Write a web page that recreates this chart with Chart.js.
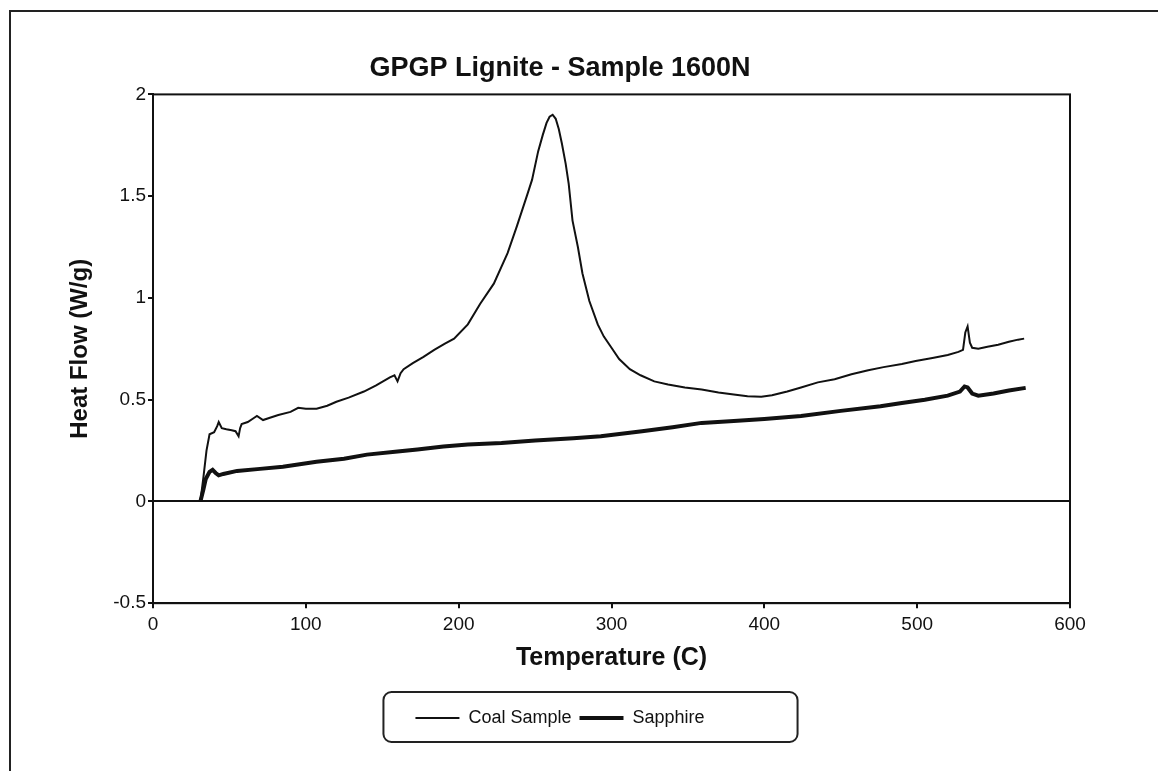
<!DOCTYPE html>
<html>
<head>
    <title>GPGP Lignite - Sample 1600N</title>
    <script src="https://cdn.jsdelivr.net/npm/chart.js"></script>
    <style>
        body {
            margin: 0;
            background: #fff;
        }
        #frame {
            position: absolute;
            left: 9px;
            top: 10px;
            width: 1160px;
            height: 800px;
            border-top: 2px solid #222;
            border-left: 2px solid #222;
        }
        #wrap {
            position: absolute;
            left: 0;
            top: 0;
            width: 1120px;
            height: 771px;
        }
    </style>
</head>
<body>
    <div id="frame"></div>
    <div id="wrap"><canvas id="dsc-chart"></canvas></div>

    <script>
        // tick labels
        const xTicks = [0, 100, 200, 300, 400, 500, 600];
        const yTicks = [-0.5, 0, 0.5, 1, 1.5, 2];

        // Coal Sample: temperature (C) and heat flow (W/g)
        const coalTemp = [31, 33, 35, 37, 40, 42, 43, 45, 48, 51.5, 54, 56, 57, 58, 62, 66, 68, 72, 76, 82,
            90, 95, 100, 107, 114, 120, 128, 138, 146, 155, 158, 160, 162, 164, 170, 177, 184, 191, 197,
            206, 214, 223, 232, 238, 245, 248, 252, 255, 257.5, 259.5, 261.5, 263.5, 265.5, 267.5, 270, 272, 274.5,
            278, 281, 285.5, 291, 295, 300, 305, 312, 319, 328, 337, 348, 359, 370, 380, 389, 398, 405,
            415, 424, 435, 446, 457, 468, 478, 490, 499, 510, 520, 527, 530, 531.5, 533, 534.5, 536, 540,
            546, 553, 560, 566, 570];
        const coalFlow = [0, 0.12, 0.25, 0.33, 0.34, 0.37, 0.39, 0.36, 0.355, 0.35, 0.345, 0.32, 0.36, 0.38, 0.39, 0.41, 0.42, 0.40, 0.41, 0.425,
            0.44, 0.46, 0.455, 0.456, 0.47, 0.49, 0.51, 0.54, 0.57, 0.61, 0.62, 0.59, 0.63, 0.65, 0.68, 0.71, 0.745, 0.775, 0.80,
            0.87, 0.97, 1.07, 1.22, 1.35, 1.51, 1.58, 1.72, 1.80, 1.86, 1.89, 1.90, 1.88, 1.83, 1.76, 1.66, 1.56, 1.38,
            1.25, 1.12, 0.985, 0.87, 0.81, 0.755, 0.70, 0.65, 0.62, 0.59, 0.575, 0.56, 0.55, 0.535, 0.525, 0.517, 0.515, 0.522,
            0.54, 0.56, 0.585, 0.60, 0.625, 0.645, 0.66, 0.675, 0.69, 0.705, 0.72, 0.735, 0.745, 0.83, 0.86, 0.78, 0.755, 0.75,
            0.76, 0.77, 0.785, 0.795, 0.80];

        // Sapphire reference run
        const sapphireTemp = [31, 33, 34.5, 37, 39, 41, 43, 46, 55, 70, 85, 107, 125, 140, 160, 173, 190, 206, 228,
            250, 275, 293, 320, 340, 359, 380, 400, 424, 450, 476, 490, 505, 520, 528, 531, 533, 536, 540, 550, 560, 571];
        const sapphireFlow = [0, 0.06, 0.11, 0.145, 0.155, 0.14, 0.128, 0.135, 0.15, 0.16, 0.17, 0.195, 0.21, 0.23, 0.245, 0.255, 0.27, 0.28, 0.287,
            0.30, 0.31, 0.32, 0.345, 0.365, 0.386, 0.395, 0.405, 0.42, 0.445, 0.468, 0.484, 0.50, 0.52, 0.54, 0.565, 0.56, 0.53, 0.52, 0.53, 0.545, 0.558];

        const toPoints = (xs, ys) => xs.map((x, i) => ({ x: x, y: ys[i] }));

        const FONT = "'Liberation Sans', Arial, Helvetica, sans-serif";
        Chart.defaults.font.family = FONT;
        Chart.defaults.color = '#111';

        // box around the plot area
        const plotBox = {
            id: 'plotBox',
            afterDatasetsDraw(chart) {
                const a = chart.chartArea;
                const ctx = chart.ctx;
                ctx.save();
                ctx.strokeStyle = '#111';
                ctx.lineWidth = 2;
                ctx.strokeRect(a.left, a.top, a.right - a.left, a.bottom - a.top);
                ctx.restore();
            }
        };

        // rounded frame around the legend items
        const legendBox = {
            id: 'legendBox',
            afterDraw(chart) {
                const boxes = chart.legend.legendHitBoxes;
                if (!boxes || !boxes.length) return;
                const first = boxes[0];
                const last = boxes[boxes.length - 1];
                const cy = first.top + first.height / 2;
                const x0 = first.left - 32;
                const x1 = last.left + last.width + 93;
                const y0 = cy - 26;
                const y1 = cy + 24;
                const ctx = chart.ctx;
                ctx.save();
                ctx.strokeStyle = '#222';
                ctx.lineWidth = 2;
                ctx.beginPath();
                ctx.roundRect(x0, y0, x1 - x0, y1 - y0, 8);
                ctx.stroke();
                ctx.restore();
            }
        };

        new Chart(document.getElementById('dsc-chart'), {
            type: 'line',
            data: {
                datasets: [
                    {
                        label: 'Coal Sample',
                        data: toPoints(coalTemp, coalFlow),
                        borderColor: '#111',
                        backgroundColor: '#111',
                        borderWidth: 2,
                        pointRadius: 0,
                        tension: 0
                    },
                    {
                        label: 'Sapphire',
                        data: toPoints(sapphireTemp, sapphireFlow),
                        borderColor: '#111',
                        backgroundColor: '#111',
                        borderWidth: 4,
                        pointRadius: 0,
                        tension: 0
                    }
                ]
            },
            options: {
                responsive: true,
                maintainAspectRatio: false,
                animation: false,
                layout: {
                    padding: { top: 52, left: 50, right: 50, bottom: 34 }
                },
                plugins: {
                    title: {
                        display: true,
                        text: 'GPGP Lignite - Sample 1600N',
                        color: '#111',
                        font: { size: 27, weight: 'bold' },
                        padding: { top: 0, bottom: 10 }
                    },
                    legend: {
                        display: true,
                        position: 'bottom',
                        labels: {
                            color: '#111',
                            font: { size: 18 },
                            usePointStyle: true,
                            pointStyle: 'line',
                            pointStyleWidth: 44,
                            boxHeight: 18,
                            padding: 8
                        }
                    },
                    tooltip: { enabled: false }
                },
                scales: {
                    x: {
                        type: 'linear',
                        min: 0,
                        max: 600,
                        afterBuildTicks(scale) {
                            scale.ticks = xTicks.map(v => ({ value: v }));
                        },
                        ticks: {
                            color: '#111',
                            font: { size: 19 },
                            padding: 5,
                            maxRotation: 0
                        },
                        grid: {
                            drawOnChartArea: false,
                            tickColor: '#111',
                            tickLength: 5,
                            lineWidth: 2
                        },
                        border: { color: '#111', width: 2 },
                        title: {
                            display: true,
                            text: 'Temperature (C)',
                            color: '#111',
                            font: { size: 25, weight: 'bold' },
                            padding: { top: 2, bottom: 28 }
                        }
                    },
                    y: {
                        type: 'linear',
                        min: -0.5,
                        max: 2,
                        afterBuildTicks(scale) {
                            scale.ticks = yTicks.map(v => ({ value: v }));
                        },
                        afterFit(scale) {
                            scale.width = 103;
                        },
                        ticks: {
                            color: '#111',
                            font: { size: 19 },
                            padding: 2,
                            callback: (v) => String(v)
                        },
                        grid: {
                            color: (c) => (c.tick && c.tick.value === 0 ? '#111' : 'rgba(0,0,0,0)'),
                            tickColor: '#111',
                            tickLength: 5,
                            lineWidth: 2
                        },
                        border: { color: '#111', width: 2 },
                        title: {
                            display: true,
                            text: 'Heat Flow (W/g)',
                            color: '#111',
                            font: { size: 24, weight: 'bold' },
                            padding: { top: 16, bottom: 4 }
                        }
                    }
                }
            },
            plugins: [plotBox, legendBox]
        });
    </script>
</body>
</html>
